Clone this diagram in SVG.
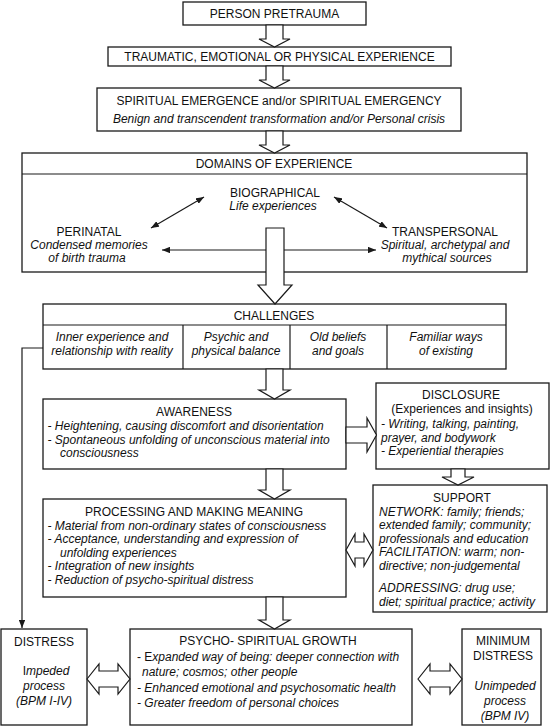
<svg xmlns="http://www.w3.org/2000/svg" width="555" height="727" viewBox="0 0 555 727">
<style>
.box{fill:#fff;stroke:#1a1a1a;stroke-width:1.3}
.blk{fill:#fff;stroke:#1a1a1a;stroke-width:1.2;stroke-linejoin:miter}
.ln{fill:none;stroke:#1a1a1a;stroke-width:1.2}
text{font-family:"Liberation Sans",Arial,Helvetica,sans-serif;font-size:12px;fill:#111}
.c{text-anchor:middle}
.i{font-style:italic}
.n{font-style:normal}
</style>
<defs>
<marker id="ah" viewBox="0 0 10 8" refX="10" refY="4" markerWidth="8" markerHeight="6.4" markerUnits="userSpaceOnUse" orient="auto-start-reverse">
<path d="M0,0 L10,4 L0,8 Z" fill="#1a1a1a"/>
</marker>
</defs>
<rect width="555" height="727" fill="#fff"/>

<g id="person">
<rect class="box" x="183" y="2" width="183" height="23"/>
<text class="c" x="274.5" y="18">PERSON PRETRAUMA</text>
</g>
<g id="traumatic">
<rect class="box" x="108" y="47" width="343" height="19"/>
<text class="c" x="279.5" y="61">TRAUMATIC, EMOTIONAL OR PHYSICAL EXPERIENCE</text>
</g>
<g id="spiritual">
<rect class="box" x="97" y="88" width="364" height="43"/>
<text class="c" x="279" y="105">SPIRITUAL EMERGENCE and/or SPIRITUAL EMERGENCY</text>
<text class="c i" x="279" y="123">Benign and transcendent transformation and/or Personal crisis</text>
</g>
<g id="domains">
<rect class="box" x="22" y="153" width="505" height="119"/>
<line class="ln" x1="22" y1="174" x2="527" y2="174"/>
<text class="c" x="274" y="168">DOMAINS OF EXPERIENCE</text>
<text class="c" x="275" y="197">BIOGRAPHICAL</text>
<text class="c i" x="273" y="210">Life experiences</text>
<text class="c" x="89" y="236">PERINATAL</text>
<text class="c i" x="89" y="249">Condensed memories</text>
<text class="c i" x="87" y="262">of birth trauma</text>
<text class="c" x="445" y="236">TRANSPERSONAL</text>
<text class="c i" x="445" y="249">Spiritual, archetypal and</text>
<text class="c i" x="447" y="262">mythical sources</text>
</g>
<g id="challenges">
<rect class="box" x="43" y="304" width="463" height="65"/>
<line class="ln" x1="43" y1="325" x2="506" y2="325"/>
<line class="ln" x1="183" y1="325" x2="183" y2="369"/>
<line class="ln" x1="290" y1="325" x2="290" y2="369"/>
<line class="ln" x1="387" y1="325" x2="387" y2="369"/>
<text class="c" x="274" y="320">CHALLENGES</text>
<text class="c i" x="112" y="341">Inner experience and</text>
<text class="c i" x="112" y="355">relationship with reality</text>
<text class="c i" x="236" y="341">Psychic and</text>
<text class="c i" x="236" y="355">physical balance</text>
<text class="c i" x="338" y="341">Old beliefs</text>
<text class="c i" x="338" y="355">and goals</text>
<text class="c i" x="446" y="341">Familiar ways</text>
<text class="c i" x="446" y="355">of existing</text>
</g>
<g id="awareness">
<rect class="box" x="43" y="399" width="303" height="70"/>
<text class="c" x="194" y="416">AWARENESS</text>
<text class="i" x="47.5" y="430">- Heightening, causing discomfort and disorientation</text>
<text class="i" x="47.5" y="443.5">- Spontaneous unfolding of unconscious material into</text>
<text class="i" x="60" y="457">consciousness</text>
</g>
<g id="disclosure">
<rect class="box" x="376" y="383" width="173" height="86"/>
<text class="c" x="461" y="399">DISCLOSURE</text>
<text class="c" x="462" y="413">(Experiences and insights)</text>
<text class="i" x="381" y="428">- Writing, talking, painting,</text>
<text class="i" x="381" y="441.5">prayer, and bodywork</text>
<text class="i" x="381" y="455">- Experiential therapies</text>
</g>
<g id="processing">
<rect class="box" x="43" y="499" width="303" height="98"/>
<text class="c" x="194" y="516">PROCESSING AND MAKING MEANING</text>
<text class="i" x="47.5" y="530">- Material from non-ordinary states of consciousness</text>
<text class="i" x="47.5" y="543">- Acceptance, understanding and expression of</text>
<text class="i" x="60" y="556.5">unfolding experiences</text>
<text class="i" x="47.5" y="570">- Integration of new insights</text>
<text class="i" x="47.5" y="584">- Reduction of psycho-spiritual distress</text>
</g>
<g id="support">
<rect class="box" x="373" y="485" width="174" height="127"/>
<text class="c" x="462" y="502">SUPPORT</text>
<text class="i" x="379" y="515.5">NETWORK: family; friends;</text>
<text class="i" x="379" y="529">extended family; community;</text>
<text class="i" x="379" y="542.5">professionals and education</text>
<text class="i" x="379" y="556">FACILITATION: warm; non-</text>
<text class="i" x="379" y="569.5">directive; non-judgemental</text>
<text class="i" x="379" y="592">ADDRESSING: drug use;</text>
<text class="i" x="379" y="605.5">diet; spiritual practice; activity</text>
</g>
<g id="distress">
<rect class="box" x="1" y="629" width="86" height="96"/>
<text class="c" x="44" y="646">DISTRESS</text>
<text class="c i" x="46" y="675"><tspan class="n">I</tspan>mpeded</text>
<text class="c i" x="44" y="690">process</text>
<text class="c i" x="44" y="705">(BPM I-IV)</text>
</g>
<g id="growth">
<rect class="box" x="130" y="629" width="282" height="96"/>
<text class="c" x="268" y="645">PSYCHO- SPIRITUAL GROWTH</text>
<text class="i" x="137" y="661"><tspan class="n">- E</tspan>xpanded way of being: deeper connection with</text>
<text class="i" x="142" y="676">nature; cosmos; other people</text>
<text class="i" x="137" y="692">- Enhanced emotional and psychosomatic health</text>
<text class="i" x="137" y="707">- Greater freedom of personal choices</text>
</g>
<g id="minimum">
<rect class="box" x="462" y="629" width="79" height="96"/>
<text class="c" x="503" y="645">MINIMUM</text>
<text class="c" x="503" y="660">DISTRESS</text>
<text class="c i" x="505" y="690">Unimpeded</text>
<text class="c i" x="505" y="705">process</text>
<text class="c i" x="505" y="720">(BPM IV)</text>
</g>

<g id="connectors">
<line class="ln" x1="151" y1="228" x2="204" y2="197" marker-start="url(#ah)" marker-end="url(#ah)"/>
<line class="ln" x1="334" y1="197" x2="387" y2="228" marker-start="url(#ah)" marker-end="url(#ah)"/>
<line class="ln" x1="162" y1="250" x2="376" y2="250" marker-start="url(#ah)" marker-end="url(#ah)"/>
<polyline class="ln" points="43,348 22,348 22,628" marker-end="url(#ah)"/>
<path class="blk" d="M266,25 V39 H259 L274.5,47 L290,39 H283 V25 Z"/>
<path class="blk" d="M266,66 V80 H259 L274.5,88 L290,80 H283 V66 Z"/>
<path class="blk" d="M266,131 V145 H259 L274.5,153 L290,145 H283 V131 Z"/>
<path class="blk" d="M266,228 H284 V285 H292 L275,304 L258,285 H266 Z"/>
<path class="blk" d="M266,369 V390 H259 L274.5,399 L290,390 H283 V369 Z"/>
<path class="blk" d="M266,469 V490 H259 L274.5,499 L290,490 H283 V469 Z"/>
<path class="blk" d="M266,597 V620 H259 L274.5,629 L290,620 H283 V597 Z"/>
<path class="blk" d="M451,469 V477 H442 L458,485 L474,477 H465 V469 Z"/>
<path class="blk" d="M346,427 H367 V418 L376.5,435 L367,452 V443 H346 Z"/>
<path class="blk" d="M346,550 L355,534 V542 H364 V534 L373,550 L364,566 V558 H355 V566 Z"/>
<path class="blk" d="M87,679 L99,664 V671 H118 V664 L130,679 L118,694 V687 H99 V694 Z"/>
<path class="blk" d="M418,679 L430,664 V671 H450 V664 L462,679 L450,694 V687 H430 V694 Z"/>
</g>
</svg>
